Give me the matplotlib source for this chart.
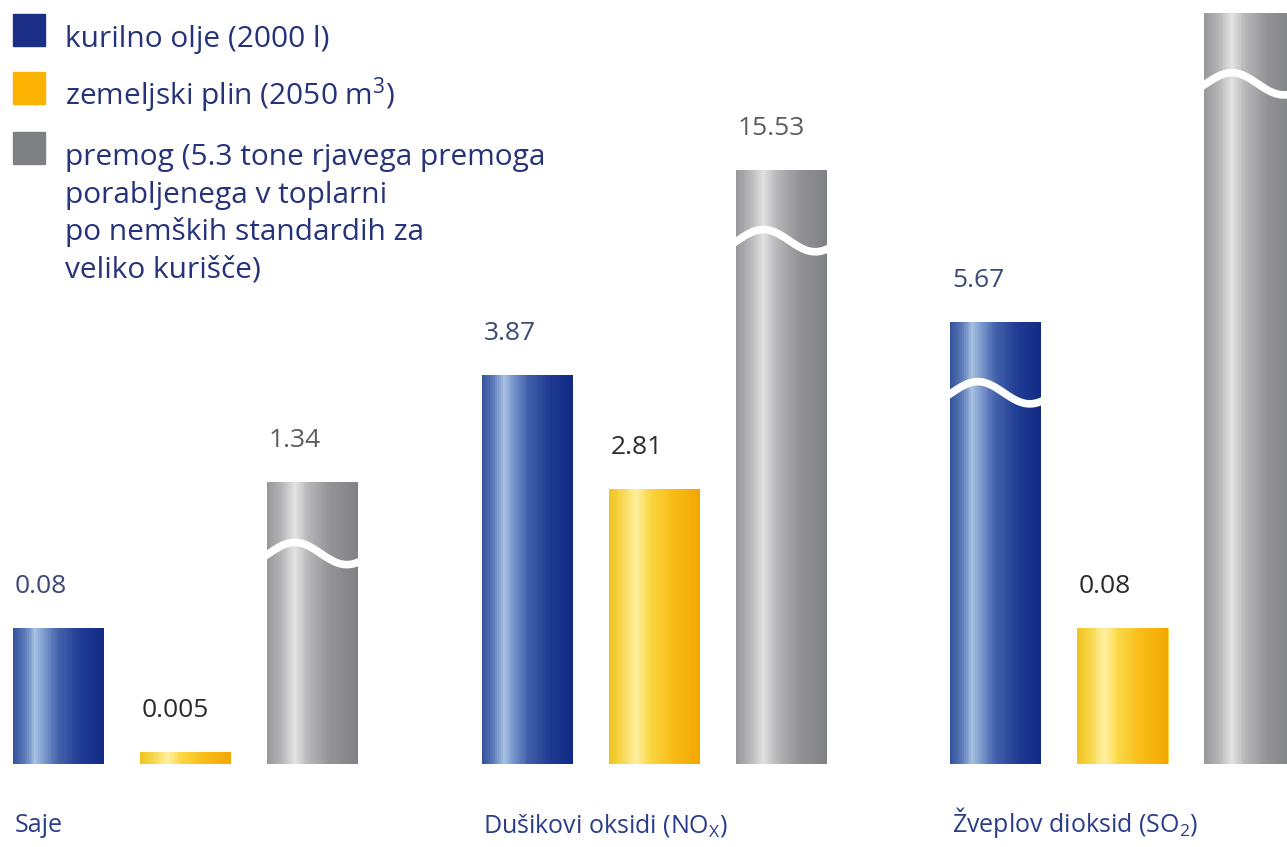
import numpy as np
import matplotlib
matplotlib.use('Agg')
import matplotlib.pyplot as plt
from matplotlib.colors import LinearSegmentedColormap
from matplotlib.patches import Rectangle

plt.rcParams['font.family'] = ['Open Sans', 'DejaVu Sans']
plt.rcParams['mathtext.fontset'] = 'custom'
plt.rcParams['mathtext.rm'] = 'Open Sans'
plt.rcParams['mathtext.it'] = 'Open Sans:italic'
plt.rcParams['mathtext.bf'] = 'Open Sans:bold'

# emissions (kg) per heating season
groups = ['Saje', 'Dušikovi oksidi (NO$_{\\mathrm{X}}$)', 'Žveplov dioksid (SO$_{2}$)']
oil = [0.08, 3.87, 5.67]
gas = [0.005, 2.81, 0.08]
coal = [1.34, 15.53, 35.5]

# bars drawn shortened, with a wavy break
oil_cut = [False, False, True]
gas_cut = [False, False, False]
coal_cut = [True, True, True]

# value printed above the bar
oil_shown = [True, True, True]
gas_shown = [True, True, True]
coal_shown = [True, True, False]

fuel_labels = ['kurilno olje (2000 l)',
               'zemeljski plin (2050 m$^{3}$)',
               'premog (5.3 tone rjavega premoga',
               'porabljenega v toplarni',
               'po nemških standardih za',
               'veliko kurišče)']

W, H = 1287, 847
fig = plt.figure(figsize=(W / 100, H / 100), dpi=100)
fig.patch.set_facecolor('white')

# plot area: full width, baseline 83 px above bottom edge
ax = fig.add_axes([0, 83 / H, 1, 764 / H])
ax_cut = ax.twinx()

step = 468.5
width = 91 / step
offset = 127 / step
ax.set_xlim(-186 / step, (W - 186) / step)

# not to scale: small values stretched, larger ones compressed
full_v = [0, 0.01, 0.1, 3, 4, 10]
full_h = [0, 24, 168, 282, 405, 764]
ax.set_yscale('function', functions=(lambda v: np.interp(v, full_v, full_h),
                                      lambda h: np.interp(h, full_h, full_v)))
ax.set_ylim(0, 10)

# broken bars use a fourth-root axis
ax_cut.set_yscale('function', functions=(lambda v: np.sign(v) * np.abs(v) ** 0.25,
                                          lambda r: np.sign(r) * np.abs(r) ** 4))
ax_cut.set_ylim(0.0044, 37.7)
ax_cut.set_xlim(ax.get_xlim())

for a in (ax, ax_cut):
    a.axis('off')

blue = LinearSegmentedColormap.from_list('oil', [
    (0, '#33529c'), (0.12, '#5a78b8'), (0.24, '#a5bfe0'), (0.36, '#7390c8'),
    (0.5, '#4261aa'), (0.75, '#1e3a92'), (1, '#102a84')])
yellow = LinearSegmentedColormap.from_list('gas', [
    (0, '#f0c41c'), (0.15, '#f7d850'), (0.3, '#fff0a0'), (0.45, '#fbd743'),
    (0.7, '#f8bd18'), (1, '#f4a602')])
grey = LinearSegmentedColormap.from_list('coal', [
    (0, '#98989c'), (0.15, '#b4b4b6'), (0.3, '#e2e2e2'), (0.45, '#b6b6b8'),
    (0.7, '#929296'), (1, '#808185')])

series = [
    (oil, oil_cut, oil_shown, blue, '#3c4878', -offset),
    (gas, gas_cut, gas_shown, yellow, '#2b2b2b', 0),
    (coal, coal_cut, coal_shown, grey, '#5c5c5c', offset),
]


def gradient_bar(axis, x, value, cmap, n=48):
    left = x - width / 2
    lefts = left + width * np.arange(n) / n
    colors = cmap((np.arange(n) + 0.5) / n)
    axis.bar(lefts, [value] * n, width=left + width - lefts, align='edge',
             color=colors, linewidth=0)


def wave_break(axis, x, value):
    x0, top = axis.transData.transform((x - width / 2, value))
    x1, _ = axis.transData.transform((x + width / 2, value))
    t = np.linspace(-0.03, 1.03, 80)
    px = x0 + t * (x1 - x0)
    py = top - 60 - 11.1 * (1 - np.cos(5.5 * (t - 0.3)))
    pts = axis.transData.inverted().transform(np.column_stack([px, py]))
    axis.plot(pts[:, 0], pts[:, 1], color='white', lw=5.5, solid_capstyle='butt')


for values, cuts, shown, cmap, label_color, dx in series:
    for i, v in enumerate(values):
        axis = ax_cut if cuts[i] else ax
        x = i + dx
        gradient_bar(axis, x, v, cmap)
        if cuts[i]:
            wave_break(axis, x, v)
        if shown[i]:
            axis.annotate(f'{v:g}', xy=(x - width / 2, v), xytext=(1, 35 * 0.72),
                          textcoords='offset points', ha='left', va='baseline',
                          fontsize=19, color=label_color, annotation_clip=False)

# group names under the first bar of each group
for i, name in enumerate(groups):
    ax.annotate(name, xy=(i - offset - width / 2, 0), xytext=(1, -68 * 0.72),
                textcoords='offset points', ha='left', va='baseline',
                fontsize=18, color='#2b3d8a', annotation_clip=False)

# legend
swatches = [('#1b2f86', 14), ('#fcb200', 72), ('#7f8084', 132)]
for color, top in swatches:
    fig.add_artist(Rectangle((13 / W, 1 - (top + 32) / H), 32 / W, 32 / H,
                             transform=fig.transFigure, color=color))
baselines = [47, 105, 165, 203, 240, 277]
for text, y in zip(fuel_labels, baselines):
    fig.text(65 / W, 1 - y / H, text, ha='left', va='baseline',
             fontsize=21.5, color='#26337a')

fig.savefig('out.png', dpi=100, facecolor='white')
